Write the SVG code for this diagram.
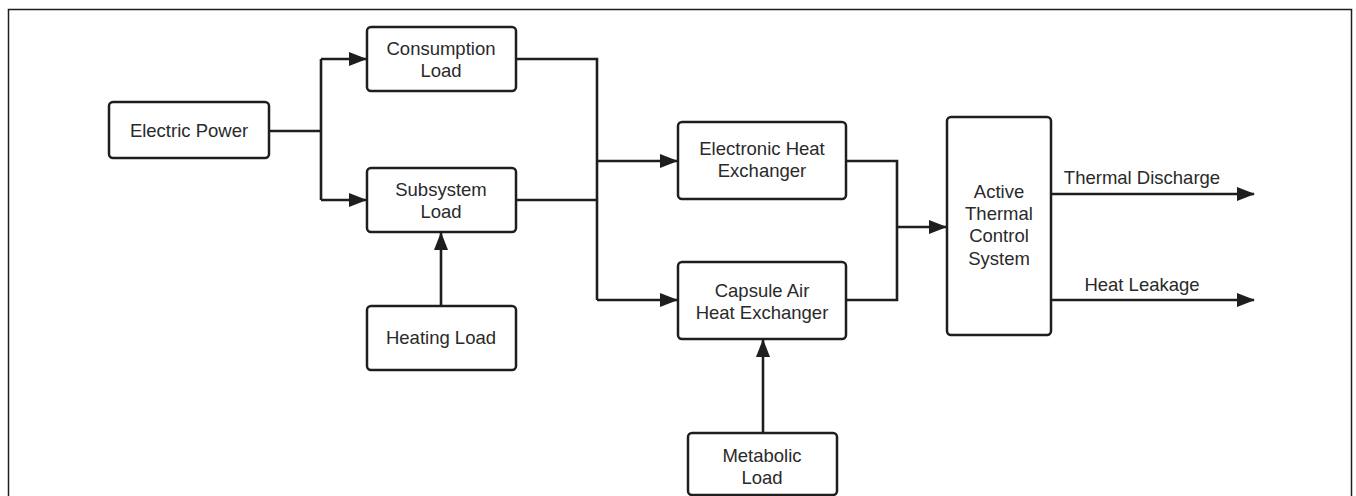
<svg xmlns="http://www.w3.org/2000/svg" width="1356" height="496" viewBox="0 0 1356 496">
<style>
.n{fill:#fff;stroke:#1e1e1e;stroke-width:2.5}
.t{font-family:"Liberation Sans",Arial,sans-serif;font-size:18.5px;fill:#2a2a2a;text-anchor:middle}
.c{fill:none;stroke:#1e1e1e;stroke-width:2.6}
</style>
<defs>
<marker id="a" markerWidth="18" markerHeight="14" refX="17" refY="7" orient="auto" markerUnits="userSpaceOnUse">
<path d="M0,0 L18,7 L0,14 Z" fill="#1e1e1e"/>
</marker>
</defs>
<rect x="0" y="0" width="1356" height="496" fill="#fff"/>
<rect x="8.5" y="9.5" width="1343" height="500" fill="none" stroke="#1e1e1e" stroke-width="1.5"/>
<g id="connectors">
<path class="c" d="M269,131 H321"/>
<path class="c" d="M321,59 V200"/>
<path class="c" d="M321,59 H366" marker-end="url(#a)"/>
<path class="c" d="M321,200 H366" marker-end="url(#a)"/>
<path class="c" d="M516,59 H597 V300"/>
<path class="c" d="M516,200 H597"/>
<path class="c" d="M597,161 H677" marker-end="url(#a)"/>
<path class="c" d="M597,300 H677" marker-end="url(#a)"/>
<path class="c" d="M441,306 V233" marker-end="url(#a)"/>
<path class="c" d="M763,433 V340" marker-end="url(#a)"/>
<path class="c" d="M846,161 H897 V300 H846"/>
<path class="c" d="M897,227 H946" marker-end="url(#a)"/>
<path class="c" d="M1051,194 H1254" marker-end="url(#a)"/>
<path class="c" d="M1051,300 H1254" marker-end="url(#a)"/>
</g>
<g id="electric-power"><rect class="n" x="109" y="102" width="160" height="56" rx="4"/><text class="t" x="189" y="137">Electric Power</text></g>
<g id="consumption-load"><rect class="n" x="367" y="27" width="149" height="64" rx="4"/><text class="t" x="441" y="55">Consumption</text><text class="t" x="441" y="77">Load</text></g>
<g id="subsystem-load"><rect class="n" x="367" y="168" width="149" height="64" rx="4"/><text class="t" x="441" y="196">Subsystem</text><text class="t" x="441" y="218">Load</text></g>
<g id="heating-load"><rect class="n" x="367" y="306" width="149" height="64" rx="4"/><text class="t" x="441" y="344">Heating Load</text></g>
<g id="electronic-heat-exchanger"><rect class="n" x="678" y="122" width="168" height="77" rx="4"/><text class="t" x="762" y="155">Electronic Heat</text><text class="t" x="762" y="177">Exchanger</text></g>
<g id="capsule-air-heat-exchanger"><rect class="n" x="678" y="262" width="168" height="77" rx="4"/><text class="t" x="762" y="297">Capsule Air</text><text class="t" x="762" y="319">Heat Exchanger</text></g>
<g id="metabolic-load"><rect class="n" x="688" y="433" width="149" height="62" rx="4"/><text class="t" x="762" y="462">Metabolic</text><text class="t" x="762" y="484">Load</text></g>
<g id="atcs"><rect class="n" x="947" y="117" width="104" height="218" rx="4"/><text class="t" x="999" y="198">Active</text><text class="t" x="999" y="220">Thermal</text><text class="t" x="999" y="242">Control</text><text class="t" x="999" y="265">System</text></g>
<g id="labels"><text class="t" x="1142" y="184">Thermal Discharge</text><text class="t" x="1142" y="291">Heat Leakage</text></g>
</svg>
